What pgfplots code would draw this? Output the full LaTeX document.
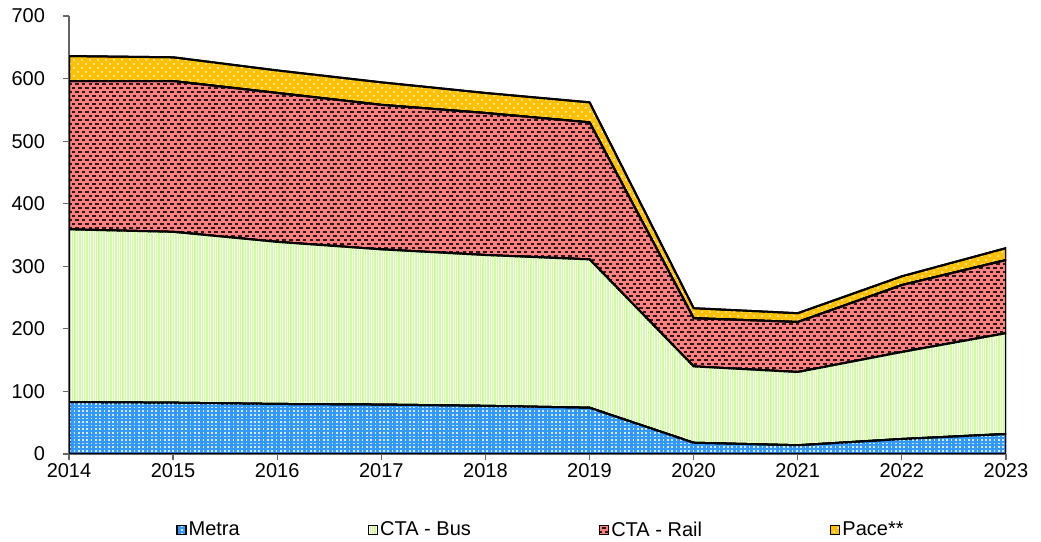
\documentclass[border=0pt]{standalone}
\usepackage{pgfplots}
\pgfplotsset{compat=1.18}
\usepackage{fontspec}
\setmainfont{Liberation Sans}
\usetikzlibrary{patterns,patterns.meta}

\definecolor{metra}{HTML}{3399FF}
\definecolor{busg}{HTML}{CCFF99}
\definecolor{rail}{HTML}{FF8080}
\definecolor{pace}{HTML}{FFC000}
\definecolor{dashc}{HTML}{2A1818}

\pgfdeclarepatternformonly{smalldots}{\pgfqpoint{-0.5pt}{-0.5pt}}{\pgfqpoint{2.5pt}{2.5pt}}{\pgfqpoint{2.15pt}{1.8pt}}{%
  \pgfpathrectangle{\pgfqpoint{0.2pt}{0.2pt}}{\pgfqpoint{0.85pt}{0.8pt}}\pgfusepath{fill}}
\pgfdeclarepatternformonly{bigdots}{\pgfqpoint{-0.5pt}{-0.5pt}}{\pgfqpoint{4.5pt}{4.5pt}}{\pgfqpoint{4pt}{4pt}}{%
  \pgfpathcircle{\pgfqpoint{1pt}{1pt}}{0.5pt}\pgfusepath{fill}
  \pgfpathcircle{\pgfqpoint{3pt}{3pt}}{0.5pt}\pgfusepath{fill}}
\pgfdeclarepatternformonly{brickdash}{\pgfqpoint{-0.5pt}{-0.5pt}}{\pgfqpoint{4pt}{4.5pt}}{\pgfqpoint{3.4pt}{4pt}}{%
  \pgfsetlinewidth{0.85pt}
  \pgfpathmoveto{\pgfqpoint{0.1pt}{1pt}}\pgfpathlineto{\pgfqpoint{1.9pt}{1pt}}
  \pgfpathmoveto{\pgfqpoint{1.8pt}{3pt}}\pgfpathlineto{\pgfqpoint{3.6pt}{3pt}}
  \pgfusepath{stroke}}
\pgfdeclarepatternformonly{vstripes}{\pgfqpoint{-0.1pt}{-0.1pt}}{\pgfqpoint{1.3pt}{1.3pt}}{\pgfqpoint{1.2pt}{1.2pt}}{%
  \pgfpathrectangle{\pgfqpoint{0pt}{-0.1pt}}{\pgfqpoint{0.65pt}{1.4pt}}\pgfusepath{fill}}

\begin{document}
\begin{tikzpicture}
\begin{axis}[
  name=ax,
  scale only axis,
  width=468.5pt, height=219pt,
  xmin=2014, xmax=2023, ymin=0, ymax=700,
  xtick={2014,...,2023}, ytick={0,100,...,700},
  axis x line*=bottom, axis y line*=left,
  axis line style={-, draw=gray!80!black, line width=0.8pt},
  tick style={draw=gray!80!black, line width=0.6pt},
  tick align=outside, major tick length=3pt,
  /pgf/number format/assume math mode=true,
  /pgf/number format/1000 sep={},
  ticklabel style={font=\fontsize{10}{12}\selectfont},
  yticklabel style={xshift=-5.5pt},
  xticklabel style={yshift=2pt},
  stack plots=y,
  every axis plot/.append style={draw=black, line width=1pt, line join=round},
  legend columns=4,
  legend style={draw=none, fill=none, at={(0.114,-0.135)}, anchor=north west,
    font=\fontsize{10}{12}\selectfont, inner xsep=0pt,
    nodes={inner xsep=1pt},
    /tikz/every even column/.append style={column sep=63pt}},
  legend image code/.code={\draw[#1, line width=0.7pt] (0pt,-2.25pt) rectangle (4.5pt,2.25pt);},
]
\addplot[fill=metra, postaction={pattern=smalldots, pattern color=white!80!metra}] coordinates {
(2014,83) (2015,82) (2016,80) (2017,79) (2018,77) (2019,74) (2020,18) (2021,14) (2022,24) (2023,32)} \closedcycle;
\addlegendentry{Metra}
\addplot[fill=white, postaction={pattern=vstripes, pattern color=busg}] coordinates {
(2014,276) (2015,273) (2016,259) (2017,248) (2018,241) (2019,237) (2020,122) (2021,117) (2022,139) (2023,161)} \closedcycle;
\addlegendentry{CTA - Bus}
\addplot[fill=rail, postaction={pattern=brickdash, pattern color=dashc}] coordinates {
(2014,237) (2015,241) (2016,238) (2017,231) (2018,227) (2019,219) (2020,77) (2021,80) (2022,107) (2023,117)} \closedcycle;
\addlegendentry{CTA - Rail}
\addplot[fill=pace, postaction={pattern=bigdots, pattern color=white!90!pace}] coordinates {
(2014,40) (2015,38) (2016,36) (2017,36) (2018,32) (2019,32) (2020,16) (2021,14) (2022,14) (2023,19)} \closedcycle;
\addlegendentry{Pace**}
\end{axis}
\pgfresetboundingbox
\path ([shift={(-34.5pt,-44pt)}]ax.south west) rectangle ([shift={(17.5pt,8pt)}]ax.north east);
\end{tikzpicture}
\end{document}
